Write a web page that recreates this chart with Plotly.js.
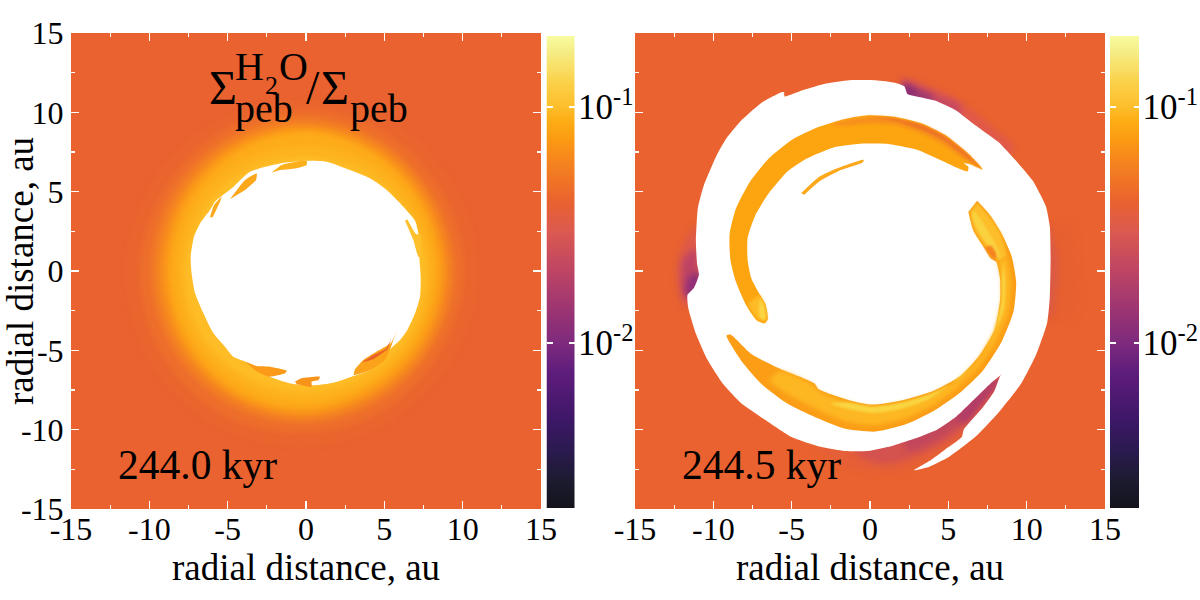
<!DOCTYPE html>
<html><head><meta charset="utf-8">
<script src="https://cdn.plot.ly/plotly-3.0.1.min.js"></script>
<style>html,body{margin:0;background:#fff}</style></head>
<body><div id="gd" style="width:1200px;height:600px"></div>
<script>
// --- colour bar values (fraction ratio)
const barValues=[0.002,0.0022,0.0025,0.0028,0.0032,0.0035,0.004,0.0045,0.005,0.0056,0.0063,0.0071,0.008,0.0089,0.01,0.0112,0.0126,0.0141,0.0158,0.0178,0.02,0.0224,0.0251,0.0282,0.0316,0.0355,0.0398,0.0447,0.0501,0.0562,0.0631,0.0708,0.0794,0.0891,0.1,0.112,0.126,0.141,0.158,0.178,0.2];
const stopPos=[0,.06,.12,.19,.29,.35,.44,.5,.59,.65,.73,.78,.82,.85,.905,.97,1];
const stopCol=['#14141c','#1c1b30','#2a1a4e','#3e1768','#5f1d7c','#7e2a7e','#a4386f','#bd4465','#dc5a4f','#e9622f','#f5821f','#fb9a12','#fdac14','#fdbe2b','#fbd24b','#f5ee88','#f8fb9f'];
const bgValue=0.0398;
const axisTicks=[-15,-10,-5,0,5,10,15];
const axisTickText=['-15','-10','-5','0','5','10','15'];
const barTickVals=[0.01,0.1];
const barTickText=['10<sup>-2</sup>','10<sup>-1</sup>'];
const timeLabels=['244.0 kyr','244.5 kyr'];
const axisTitle='radial distance, au';

// --- left panel: ring contours, radius (au) at these angles (deg)
const ringAngles=[0,30,60,90,120,150,180,210,240,270,300,330,360];
const ringLevels=[
 {r:[11,10.9,10.9,10.8,11,11.3,11.5,11.5,11.3,11.1,10.9,10.9,11],c:'#ea652e'},
 {r:[10.1,10,10.1,10.2,10.3,10.4,10.6,10.6,10.5,10.2,10.1,10,10.1],c:'#ed6e2b'},
 {r:[9.5,9.4,9.5,9.7,9.75,9.85,9.9,9.85,9.75,9.6,9.45,9.4,9.5],c:'#f27c25'},
 {r:[9.1,9.05,9.15,9.3,9.35,9.4,9.45,9.4,9.3,9.25,9.05,9.05,9.1],c:'#f78c1d'},
 {r:[8.75,8.7,8.8,9.0,9.0,9.0,9.0,9.0,9.0,8.9,8.7,8.7,8.75],c:'#fc9f18'},
 {r:[8.35,8.35,8.5,8.7,8.65,8.6,8.6,8.65,8.65,8.55,8.3,8.3,8.35],c:'#fdac1a'},
 {r:[8.0,7.9,7.9,7.9,8.0,8.1,8.1,8.2,8.15,8.1,8.0,8.0,8.0],c:'#fdb31e'},
 {r:[7.7,7.5,7.3,7.2,7.4,7.6,7.75,7.8,7.7,7.6,7.6,7.7,7.7],c:'#febc26'}
];
// --- left panel: central gap and fragments (au)
const holeL=[[0.04,6.95],[1.32,6.89],[2.81,6.36],[4.08,5.84],[5.15,5.1],[6.21,4.05],[6.96,3.17],[7.17,2.37],[7.23,0.9],[7.32,-0.36],[7.28,-1.62],[6.96,-2.67],[6.47,-3.72],[6,-4.35],[5.4,-4.91],[4.08,-6.24],[2.91,-6.66],[1.74,-7.04],[0.47,-7.2],[-0.81,-7.12],[-1.45,-6.97],[-2.4,-6.62],[-3.89,-5.71],[-4.64,-5.4],[-5.17,-4.77],[-5.91,-3.93],[-6.55,-2.67],[-7.08,-1.41],[-7.3,-0.15],[-7.36,0.9],[-7.15,2.16],[-6.76,3],[-6.13,3.84],[-5.81,4.37],[-4.74,5.21],[-3.57,6.26],[-1.66,6.78],[0.04,6.95]];
const fragL=[
 {p:[[6.32,3.17],[6.85,1.95],[7.17,0.9],[7.3,0.9],[7.3,2.3],[7.02,2.33],[6.47,3.26]],c:'#fec02c'},
 {p:[[5.83,-3.72],[5.4,-4.56],[4.51,-5.08],[3.66,-5.61],[3.13,-6.2],[3.06,-6.55],[4.08,-6.26],[5.04,-5.61],[5.4,-4.87],[5.57,-4.35]],c:'#fba21a'},
 {p:[[5.45,-4.2],[5.1,-4.9],[4.3,-5.3],[3.6,-5.75],[4.3,-5.55],[5.2,-4.95]],c:'#e8622a'},
 {p:[[-3.89,-5.71],[-3.15,-5.99],[-2.3,-6.03],[-1.23,-6.28],[-1.34,-6.45],[-2.34,-6.66],[-3.15,-6.34]],c:'#fa9a18'},
 {p:[[-0.7,-6.97],[-0.28,-6.76],[0.89,-6.66],[0.79,-6.87],[0.36,-6.97],[0.36,-7.3],[-0.6,-7.12]],c:'#f9941a'},
 {p:[[-2.19,6.2],[-1.55,6.68],[0.04,6.95],[0.04,6.68],[-0.6,6.47],[-1.66,6.36]],c:'#fdaf1c'},
 {p:[[-4.85,4.52],[-3.89,5.73],[-3.15,6.15],[-3.19,5.73],[-3.89,5.1]],c:'#fca81a'},
 {p:[[-6.13,3.38],[-5.87,4.16],[-5.38,4.68],[-5.49,4.37],[-5.96,3.38]],c:'#fca81a'}
];
// --- right panel: soft purple glows under the gap (au)
const glowR=[
 {p:[[13,3],[13.2,0],[13,-3],[11,-3],[11,3]],c:'#e7602f'},
 {p:[[11.3,3.2],[11.95,1],[11.95,-1],[11.4,-3],[10,-1],[10,1]],c:'#da5a45'},
 {p:[[2,12.3],[3.2,11.9],[4.8,11.2],[6.4,10.2],[8,8.9],[9.2,7.7],[8,7],[2,10]],c:'#e0594a'},
 {p:[[2.1,12],[3.3,11.5],[4.6,11],[5.8,10.4],[5,9],[2,10]],c:'#c84a60'},
 {p:[[2.1,11.85],[3.2,11.4],[4,11],[3.5,10],[2,10.5]],c:'#a03a6f'},
 {p:[[2.1,11.75],[2.7,11.55],[3,11.1],[2.2,10.8]],c:'#8d2e73'},
 {p:[[-11,3],[-11.8,2],[-12.3,0.5],[-12.3,-1],[-11.9,-2.2],[-11,-2],[-10.5,0]],c:'#de5a48'},
 {p:[[-11,1.5],[-11.9,0.8],[-12,-0.8],[-11.75,-1.7],[-11,-1.5]],c:'#be4465'},
 {p:[[-11,0],[-11.55,-0.4],[-11.75,-1.1],[-11.7,-1.6],[-11.1,-1.3],[-10.8,-0.3]],c:'#8f2f78'},
 {p:[[-3.5,-11],[-2,-12.1],[0,-12.6],[2,-12.6],[4.5,-11.5],[7,-9.5],[8.5,-6.5],[5,-8],[0,-11]],c:'#e55f38'},
 {p:[[-1.2,-11.2],[0,-12],[1.5,-12.1],[3,-11.6],[5.5,-10.3],[8.2,-7],[5,-8],[0,-11]],c:'#d4524f'},
 {p:[[2,-10.5],[2.5,-11.3],[4,-10.8],[5.9,-9.5],[8.3,-6.8],[5,-8]],c:'#c2475c'},
 {p:[[5.5,-9.3],[6,-9.6],[7.2,-8.2],[8.4,-6.6],[6.5,-8]],c:'#b03c68'}
];
const gapR=[[-5.45,11],[-4.27,11.4],[-2.81,11.81],[-1.34,12.02],[0.37,12.02],[1.59,11.86],[2.2,11.63],[2.39,11.16],[3.3,10.93],[4.27,10.7],[5.49,10.12],[6.72,9.19],[8.18,8.14],[9.4,6.86],[10.38,5.7],[11.23,4.07],[11.48,2.79],[11.53,0.93],[11.48,-1.63],[11.31,-3.26],[10.62,-5.23],[9.65,-7.09],[8.18,-8.95],[6.84,-10.35],[5,-11.74],[3.79,-12.33],[2.81,-12.56],[3.79,-11.98],[4.76,-11.28],[5.86,-10.47],[5.98,-10],[7.2,-8.6],[7.94,-7.56],[8.3,-6.63],[8.42,-6.51],[7.69,-7.09],[6.72,-8.02],[5.49,-9.19],[4.27,-10],[2.81,-10.58],[1.34,-11.05],[-0.12,-11.35],[-1.59,-11.35],[-3.3,-11.05],[-5,-10.47],[-6.47,-9.53],[-8.18,-8.37],[-9.4,-7.09],[-10.38,-5.58],[-11.11,-3.95],[-11.6,-2.33],[-11.65,-1.51],[-11.23,-1.05],[-10.92,-0.23],[-11.04,0.47],[-11.11,1.86],[-10.99,3.95],[-10.62,5.35],[-9.77,7.33],[-9.16,8.37],[-8.18,9.53],[-6.96,10.58],[-5.74,11.23],[-5.49,11.28],[-5.45,11]];
// --- right panel: water-rich arcs (au); the first of each arc is its crisp body, the rest are soft bands
const arcsR=[
 {p:[[7.2,6.4],[6.23,7.44],[4.76,8.6],[3.3,9.3],[1.59,9.72],[-0.12,9.81],[-1.59,9.58],[-3.3,9.07],[-5,8.26],[-6.47,7.09],[-7.69,5.58],[-8.55,3.95],[-8.96,2.33],[-8.91,0.7],[-8.55,-0.7],[-7.94,-2.09],[-7.2,-3.14],[-6.72,-3.3],[-6.52,-3.02],[-6.67,-2.09],[-7.08,-1.4],[-7.57,-0.47],[-7.81,0.7],[-7.81,2.09],[-7.33,3.49],[-6.47,4.88],[-5.25,6.28],[-4.03,7.09],[-2.32,7.79],[-0.61,8.02],[1.34,7.98],[3.05,7.63],[4.52,6.98],[6.23,6.28],[6.28,6.56],[5.98,6.81],[6.35,6.74],[7.2,6.4]],c:'#fda510',soft:0},
 {p:[[7.1,6.45],[6.23,7.35],[4.76,8.5],[3.3,9.2],[1.59,9.6],[-0.12,9.7],[-1.59,9.48],[-2.5,9.2],[-1.59,9.15],[-0.12,9.3],[1.59,9.2],[3.3,8.65],[4.76,7.9],[5.9,7.1]],c:'#f7901c',soft:1.5},
 {p:[[7.1,6.45],[6.23,7.35],[4.76,8.5],[3.3,9.2],[1.59,9.6],[-0.12,9.7],[1.59,9.45],[3.3,8.9],[4.76,8.2]],c:'#ee7426',soft:1.2},
 {p:[[-7.8,-2.09],[-7.2,-3],[-6.72,-3.15],[-6.6,-3],[-6.75,-2.09],[-7.08,-1.5]],c:'#fdbb26',soft:1.5},
 {p:[[-7.1,-2.3],[-7.05,-2.9],[-6.75,-3.1],[-6.65,-2.9],[-6.8,-2.1],[-7,-1.7]],c:'#fbd544',soft:1},
 {p:[[6.84,4.42],[7.69,3.49],[8.42,2.33],[9.04,0.93],[9.33,-0.7],[9.16,-2.56],[8.42,-4.42],[7.2,-6.28],[5.74,-7.67],[4.03,-8.84],[2.32,-9.65],[0.37,-10.12],[-1.59,-9.95],[-3.3,-9.3],[-5.25,-8.37],[-6.96,-7.09],[-8.18,-5.7],[-9.16,-4.07],[-8.91,-4],[-7.57,-5.23],[-5.74,-6.16],[-3.54,-7.09],[-3.3,-7.44],[-1.34,-8.14],[0.12,-8.42],[2.08,-8.14],[4.03,-7.56],[5.74,-6.63],[6.96,-5.35],[7.94,-3.72],[8.3,-1.86],[8.3,-0.47],[8.06,0.58],[7.69,0.81],[7.33,1.4],[6.59,2.56],[6.28,3.72]],c:'#fb9e16',soft:0},
 {p:[[8.75,0.9],[9,-0.7],[8.83,-2.5],[8.1,-4.3],[6.9,-6.1],[5.5,-7.4],[3.9,-8.5],[2.2,-9.3],[0.3,-9.7],[-1.5,-9.5],[-3.2,-8.8],[-5,-7.9],[-6.4,-6.9],[-5.74,-6.3],[-3.54,-7.25],[-3.3,-7.6],[-1.34,-8.3],[0.12,-8.58],[2.08,-8.3],[4.03,-7.72],[5.74,-6.8],[6.96,-5.5],[7.94,-3.8],[8.4,-1.86],[8.4,-0.47],[8.15,0.6]],c:'#fdb722',soft:2},
 {p:[[8.5,0.6],[8.65,-0.8],[8.55,-2.4],[7.8,-4.2],[6.6,-5.9],[5.2,-7.1],[3.7,-8.1],[2,-8.7],[0.2,-8.95],[-1.4,-8.7],[-2.5,-8.35],[-1.34,-8.3],[0.12,-8.55],[2.08,-8.28],[4.03,-7.7],[5.74,-6.78],[6.96,-5.48],[7.94,-3.8],[8.4,-1.86],[8.4,-0.47]],c:'#f9d542',soft:1.2},
 {p:[[6.84,4.3],[7.6,3.45],[8.35,2.33],[8.7,0.9],[8.3,0.75],[8.06,0.7],[7.69,0.95],[7.4,1.5],[6.7,2.56],[6.4,3.72]],c:'#fdbe2a',soft:1.5},
 {p:[[6.6,3.85],[7.1,3.2],[7.7,2.2],[8.2,1.3],[8.35,0.7],[7.9,1.2],[7.2,2.1],[6.7,2.9],[6.5,3.6]],c:'#fad240',soft:1},
 {p:[[7.3,1.5],[7.7,0.95],[8,0.7],[8.05,1.1],[7.75,1.6]],c:'#f58320',soft:0.8},
 {p:[[-4.4,4.9],[-3.3,5.9],[-2,6.5],[-0.4,7],[-0.45,6.85],[-2,6.3],[-3.3,5.6],[-4.2,4.8]],c:'#fda81a',soft:0}
];
// --- heading pieces: text, left x (au), mid y (au), font size
const headPieces=[['Σ',-6.35,11.55,48],['H',-4.65,12.87,40],['2',-2.75,11.7,26],['O',-1.83,12.87,40],['peb',-4.65,10.25,40],['/',-0.1,11.55,48],['Σ',0.8,11.55,48],['peb',2.65,10.25,40]];

const font='Liberation Serif';
const colorscale=stopPos.map((p,i)=>[p,stopCol[i]]);
const zmin=Math.log10(barValues[0]), zmax=Math.log10(barValues[barValues.length-1]);
const traces=[];
function poly(pts,c,xa,ya,o){o=o||{};
 traces.push({type:'scatter',mode:'lines',xaxis:xa,yaxis:ya,x:pts.map(p=>p[0]),y:pts.map(p=>p[1]),fill:'toself',fillcolor:c,
  line:{width:0,color:c,shape:o.smooth?'spline':'linear',smoothing:o.smooth||0},hoverinfo:'skip',showlegend:false,meta:o.blur||0});
}
function bg(xa,ya){traces.push({type:'heatmap',xaxis:xa,yaxis:ya,x:[-15,15],y:[-15,15],z:[[0,0],[0,0]].map(r=>r.map(()=>Math.log10(bgValue))),zmin,zmax,colorscale,showscale:false,hoverinfo:'skip'});}
function bar(xa,ya){traces.push({type:'heatmap',xaxis:xa,yaxis:ya,x:[0,1],y:barValues,z:barValues.map(v=>[Math.log10(v),Math.log10(v)]),zmin,zmax,colorscale,showscale:false,zsmooth:'best',hoverinfo:'skip'});}
bg('x','y');bg('x2','y2');bar('x3','y3');bar('x4','y4');
ringLevels.forEach(l=>poly(ringAngles.map((a,i)=>[l.r[i]*Math.cos(a*Math.PI/180),l.r[i]*Math.sin(a*Math.PI/180)]),l.c,'x','y',{smooth:1,blur:2.5}));
poly(holeL,'#ffffff','x','y',{smooth:0.6});
fragL.forEach(f=>poly(f.p,f.c,'x','y',{smooth:0.5}));
glowR.forEach(f=>poly(f.p,f.c,'x2','y2',{blur:3,smooth:1}));
poly(gapR,'#ffffff','x2','y2',{smooth:0.5});
arcsR.forEach(f=>poly(f.p,f.c,'x2','y2',{smooth:0.6,blur:f.soft}));

const mainAxis=(dom,anch)=>({domain:dom,anchor:anch,range:[-15,15],tickmode:'array',tickvals:axisTicks,ticktext:axisTickText,ticks:'inside',ticklen:8,tickwidth:1.5,tickcolor:'#fff',mirror:'ticks',
 minor:{dtick:2.5,ticks:'inside',ticklen:4,tickwidth:1.2,tickcolor:'#fff'},showgrid:false,zeroline:false,showline:true,linecolor:'#fff',linewidth:1,automargin:true,
 tickfont:{family:font,size:32,color:'#000'}});
const px=v=>v/1200, py=v=>1-v/600;
const barX=dom=>({domain:dom,range:[0,1],showticklabels:false,ticks:'',showgrid:false,zeroline:false,showline:false});
const barY=anch=>({domain:[py(508),py(36)],anchor:anch,side:'right',type:'log',range:[Math.log10(0.002),Math.log10(0.2)],tickmode:'array',tickvals:barTickVals,ticktext:barTickText,ticks:'inside',ticklen:6,tickwidth:1.5,tickcolor:'#fff',mirror:'ticks',showgrid:false,zeroline:false,showline:false,ticklabelstandoff:2,tickfont:{family:font,size:35,color:'#000'}});
const annots=[];
annots.push({xref:'x',yref:'y',x:-12.1,y:-12.2,xanchor:'left',yanchor:'middle',text:timeLabels[0],showarrow:false,font:{family:font,size:41.5,color:'#000'}});
annots.push({xref:'x2',yref:'y2',x:-12.1,y:-12.2,xanchor:'left',yanchor:'middle',text:timeLabels[1],showarrow:false,font:{family:font,size:41.5,color:'#000'}});
headPieces.forEach(h=>annots.push({xref:'x',yref:'y',x:h[1],y:h[2],xanchor:'left',yanchor:'middle',text:h[0],showarrow:false,font:{family:font,size:h[3],color:'#000'}}));

const ttl=(s)=>({text:axisTitle,font:{family:font,size:37,color:'#000'},standoff:s});
const layout={width:1200,height:600,margin:{l:0,r:0,t:0,b:0,autoexpand:false},paper_bgcolor:'#fff',plot_bgcolor:'#fff',showlegend:false,
 xaxis:Object.assign(mainAxis([px(71),px(541)],'y'),{title:ttl(0),ticklabelstandoff:-8}),
 yaxis:Object.assign(mainAxis([py(509),py(33)],'x'),{title:ttl(13)}),
 xaxis2:Object.assign(mainAxis([px(635),px(1105)],'y2'),{title:ttl(0),ticklabelstandoff:-8}),
 yaxis2:Object.assign(mainAxis([py(509),py(33)],'x2'),{showticklabels:false}),
 xaxis3:Object.assign(barX([px(546.5),px(575)]),{anchor:'y3'}),
 yaxis3:barY('x3'),
 xaxis4:Object.assign(barX([px(1110),px(1139.5)]),{anchor:'y4'}),
 yaxis4:barY('x4'),
 annotations:annots};
Plotly.newPlot('gd',traces,layout,{displayModeBar:false,staticPlot:true}).then(()=>{
 document.querySelectorAll('.scatterlayer .trace').forEach(el=>{
  const d=el.__data__&&el.__data__[0]&&el.__data__[0].trace;
  if(d&&d.meta){el.style.filter='blur('+d.meta+'px)';}
 });
});
</script></body></html>
